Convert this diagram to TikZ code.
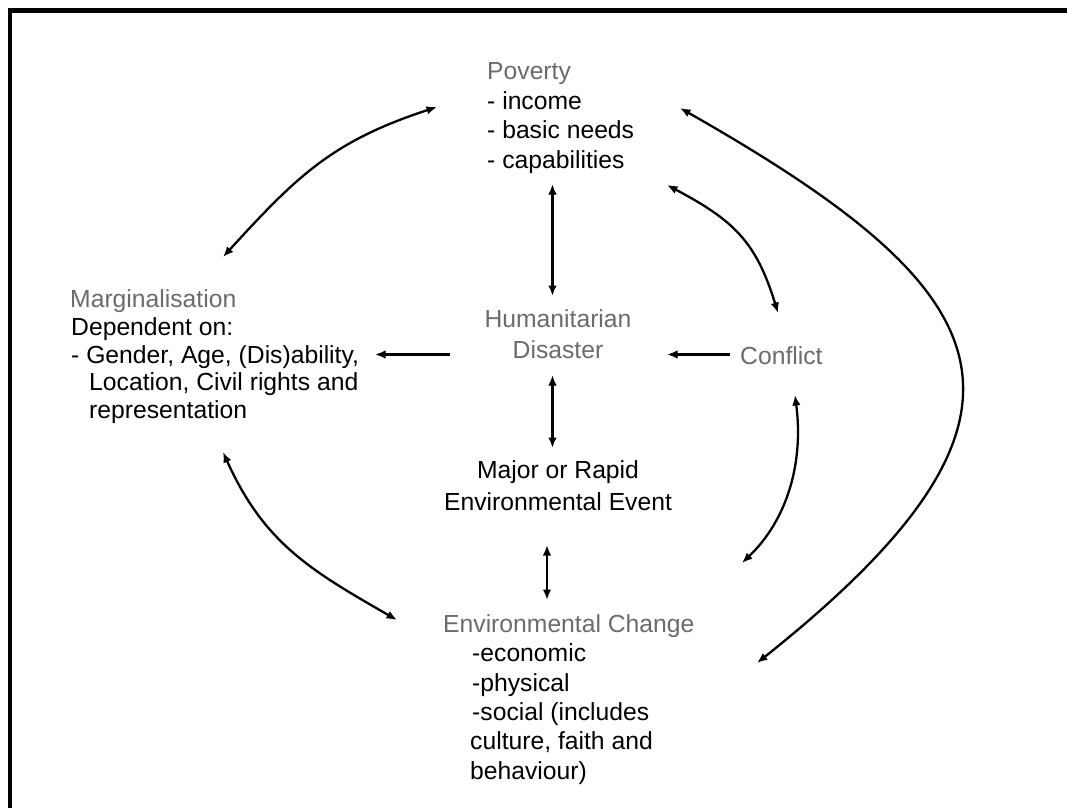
\documentclass[tikz,border=0pt]{standalone}
\usepackage{fontspec}
\setmainfont{Liberation Sans}
\usetikzlibrary{arrows.meta}
\definecolor{titlegray}{gray}{0.42}
\tikzset{
  lbl/.style={inner sep=0pt, anchor=base west, font=\fontsize{24.7}{29.5}\selectfont},
  lblc/.style={lbl, anchor=base},
  ttl/.style={lbl, text=titlegray},
  ttlc/.style={lblc, text=titlegray},
  tipk/.tip={Latex[length=10.5pt,width=8.5pt]},
  conn/.style={line width=2.3pt, tipk-tipk},
  oneway/.style={line width=2.3pt, -tipk},
  frame/.style={line width=4.8pt, line join=miter}
}
\begin{document}
\begin{tikzpicture}[x=1pt,y=-1pt]
\useasboundingbox (0,0) rectangle (1067,808);
\draw[frame] (10,808) -- (10,10.5) -- (1067,10.5);

% Poverty
\node[ttl] (povT) at (487,79.5) {Poverty};
\node[lbl] (pov1) at (487,109) {- income};
\node[lbl] (pov2) at (487,138.8) {- basic needs};
\node[lbl] (pov3) at (487,168.5) {- capabilities};

% Marginalisation
\node[ttl] (marT) at (70,307.7) {Marginalisation};
\node[lbl] (mar1) at (71,335.5) {Dependent on:};
\node[lbl] (mar2) at (71,363) {- Gender, Age, (Dis)ability,};
\node[lbl] (mar3) at (89,390.5) {Location, Civil rights and};
\node[lbl] (mar4) at (89,418) {representation};

% Humanitarian Disaster
\node[ttlc] (humT1) at (558,327) {Humanitarian};
\node[ttlc] (humT2) at (558,358) {Disaster};

% Conflict
\node[ttl] (conT) at (740,364.5) {Conflict};

% Major or Rapid Environmental Event
\node[lblc] (maj1) at (558,478.3) {Major or Rapid};
\node[lblc] (maj2) at (558,510) {Environmental Event};

% Environmental Change
\node[ttl] (envT) at (443,632.3) {Environmental Change};
\node[lbl] (env1) at (472,661.7) {-economic};
\node[lbl] (env2) at (472,691) {-physical};
\node[lbl] (env3) at (472,720.4) {-social (includes};
\node[lbl] (env4) at (470,749.8) {culture, faith and};
\node[lbl] (env5) at (470,779.2) {behaviour)};

% connector end points
\coordinate (povL) at (437,107);
\coordinate (povB) at (552.5,184);
\coordinate (povR) at (667,185);
\coordinate (povFR) at (680,108);
\coordinate (marTR) at (223,257);
\coordinate (marR) at (375,354.5);
\coordinate (marB) at (223,452);
\coordinate (humT) at (552.5,296);
\coordinate (humL) at (450,354.5);
\coordinate (humR) at (667,354.5);
\coordinate (humB) at (552.5,375);
\coordinate (conL) at (730,354.5);
\coordinate (conT2) at (778,313);
\coordinate (conB) at (795,395);
\coordinate (majT) at (552.5,448);
\coordinate (majB) at (547,545);
\coordinate (envT2) at (547,600);
\coordinate (envL) at (397,620);
\coordinate (envTR) at (742,563);
\coordinate (envR) at (757,663);

% connectors
\draw[conn] (marTR) .. controls (297,176) and (332.5,141) .. (povL);
\draw[conn] (povB) -- (humT);
\draw[conn] (povR) .. controls (733,220) and (756,241) .. (conT2);
\draw[conn] (povFR) .. controls (1000,290) and (1075,410) .. (envR);
\draw[oneway] (humL) -- (marR);
\draw[oneway] (conL) -- (humR);
\draw[conn] (humB) -- (majT);
\draw[conn] (majB) -- (envT2);
\draw[conn] (marB) .. controls (264,543) and (310,570) .. (envL);
\draw[conn] (conB) .. controls (804,465) and (786,521) .. (envTR);
\end{tikzpicture}
\end{document}
